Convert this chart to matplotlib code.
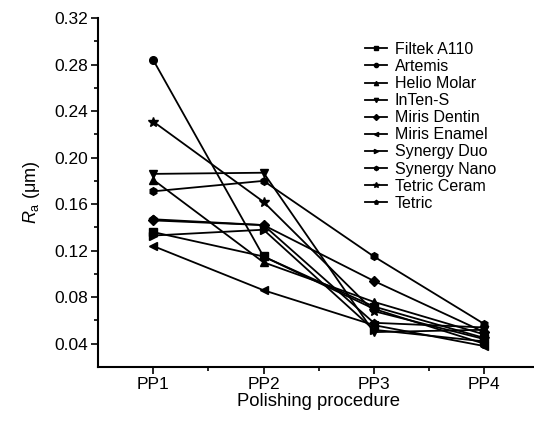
import matplotlib
matplotlib.use("Agg")
import matplotlib.pyplot as plt
from matplotlib.ticker import FixedLocator

plt.rcParams['font.family'] = ['Liberation Sans', 'DejaVu Sans']
plt.rcParams['mathtext.fontset'] = 'custom'
plt.rcParams['mathtext.rm'] = 'Liberation Sans'
plt.rcParams['mathtext.it'] = 'Liberation Sans:italic'

procedures = ["PP1", "PP2", "PP3", "PP4"]
materials = ["Filtek A110", "Artemis", "Helio Molar", "InTen-S", "Miris Dentin",
             "Miris Enamel", "Synergy Duo", "Synergy Nano", "Tetric Ceram", "Tetric"]
markers = ["s", "o", "^", "v", "D", "<", ">", "h", "*", "p"]

filtek_a110   = [0.136, 0.115, 0.072, 0.045]
artemis       = [0.284, 0.115, 0.070, 0.040]
helio_molar   = [0.181, 0.110, 0.076, 0.048]
inten_s       = [0.186, 0.187, 0.050, 0.052]
miris_dentin  = [0.146, 0.142, 0.094, 0.050]
miris_enamel  = [0.124, 0.086, 0.056, 0.038]
synergy_duo   = [0.133, 0.138, 0.052, 0.042]
synergy_nano  = [0.171, 0.180, 0.115, 0.057]
tetric_ceram  = [0.231, 0.162, 0.068, 0.044]
tetric        = [0.147, 0.142, 0.058, 0.054]

series = [filtek_a110, artemis, helio_molar, inten_s, miris_dentin,
          miris_enamel, synergy_duo, synergy_nano, tetric_ceram, tetric]

fig = plt.figure(figsize=(5.34, 4.34), dpi=100)
ax = fig.add_axes([98/534, 1-367/434, 1-98/534+0.01, (367-18)/434])

x = list(range(1, len(procedures)+1))
for name, vals, m in zip(materials, series, markers):
    ms = 7 if m == "*" else 5.5
    ax.plot(x, vals, color="black", lw=1.3, marker=m, ms=ms, label=name)

ax.set_xlim(0.5, 4.5)
ax.set_ylim(0.02, 0.32)
ax.set_xticks(x)
ax.set_xticklabels(procedures)
ax.xaxis.set_minor_locator(FixedLocator([1.5, 2.5, 3.5]))
ax.set_yticks([0.04, 0.08, 0.12, 0.16, 0.20, 0.24, 0.28, 0.32])
ax.set_yticklabels(["0.04", "0.08", "0.12", "0.16", "0.20", "0.24", "0.28", "0.32"])
ax.yaxis.set_minor_locator(FixedLocator([0.06, 0.10, 0.14, 0.18, 0.22, 0.26, 0.30]))

for s in ["top", "right"]:
    ax.spines[s].set_visible(False)
for s in ["left", "bottom"]:
    ax.spines[s].set_linewidth(1.5)
ax.tick_params(which="major", direction="out", length=5, width=1.2, labelsize=12.5, pad=2)
ax.tick_params(which="minor", direction="out", length=3, width=1.2)
ax.tick_params(axis="x", pad=2)

ax.set_xlabel("Polishing procedure", fontsize=13.3, labelpad=1)
ax.set_ylabel(r"$R_{\mathrm{a}}$ (μm)", fontsize=13, labelpad=9)

leg = fig.legend(loc="upper left", bbox_to_anchor=(357/534, 1-34/434), frameon=False,
                 fontsize=11.5, handlelength=1.4, handletextpad=0.45, labelspacing=0.13,
                 borderpad=0, markerscale=0.55)

fig.savefig("out.png", dpi=100)
